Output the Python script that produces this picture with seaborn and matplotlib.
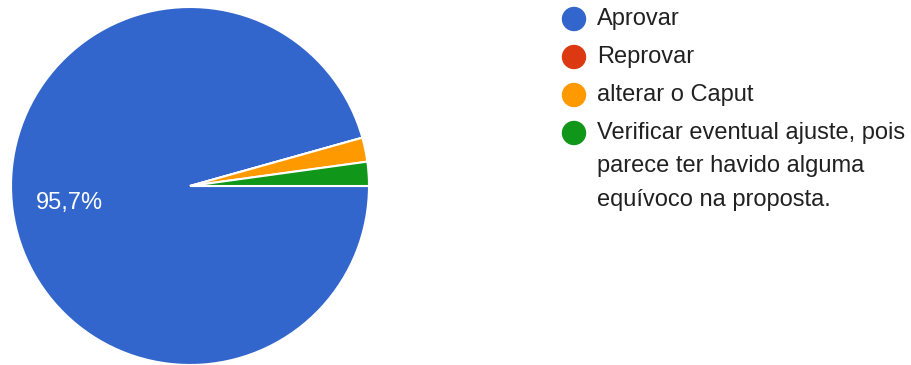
import matplotlib
matplotlib.use("Agg")
import matplotlib.pyplot as plt
from matplotlib.patches import Ellipse
import seaborn as sns

# Survey responses
categories = ["Aprovar", "Reprovar", "alterar o Caput",
              "Verificar eventual ajuste, pois\nparece ter havido alguma\nequívoco na proposta."]
counts = [44, 0, 1, 1]
colors = ["#3366cc", "#dc3912", "#ff9900", "#109618"]

sns.set_theme(style="white")
plt.rcParams["font.family"] = ["Liberation Sans", "DejaVu Sans"]

W, H = 912, 365
fig = plt.figure(figsize=(W / 100, H / 100), dpi=100)
palette = sns.color_palette(colors)

# Pie axes: square region centred at (190, 179) px from bottom-left
r = 179
ax = fig.add_axes([(190 - r) / W, (179 - r) / H, 2 * r / W, 2 * r / H])


def pct_label(p):
    return f"{p:.1f}%".replace(".", ",") if p > 10 else ""


wedges, texts, autotexts = ax.pie(
    counts, colors=palette, startangle=0, counterclock=False,
    autopct=pct_label, pctdistance=0.68,
    wedgeprops=dict(edgecolor="white", linewidth=1.5),
    textprops=dict(color="white", fontsize=17),
)
ax.set_xlim(-1, 1)
ax.set_ylim(-1, 1)
ax.set_aspect("equal")
ax.axis("off")

# Legend on the right, with wrapped long entry
row_y = [19, 57, 95, 133]
line_gap = 33.5
d = 23
for y, label, c in zip(row_y, categories, palette):
    fig.patches.append(Ellipse((574 / W, 1 - y / H), d / W, d / H,
                               transform=fig.transFigure, color=c))
    for i, line in enumerate(label.split("\n")):
        fig.text(597 / W, 1 - (y + i * line_gap) / H, line,
                 fontsize=17, color="#212121", va="center", ha="left")

fig.savefig("out.png", dpi=100, facecolor="white")
